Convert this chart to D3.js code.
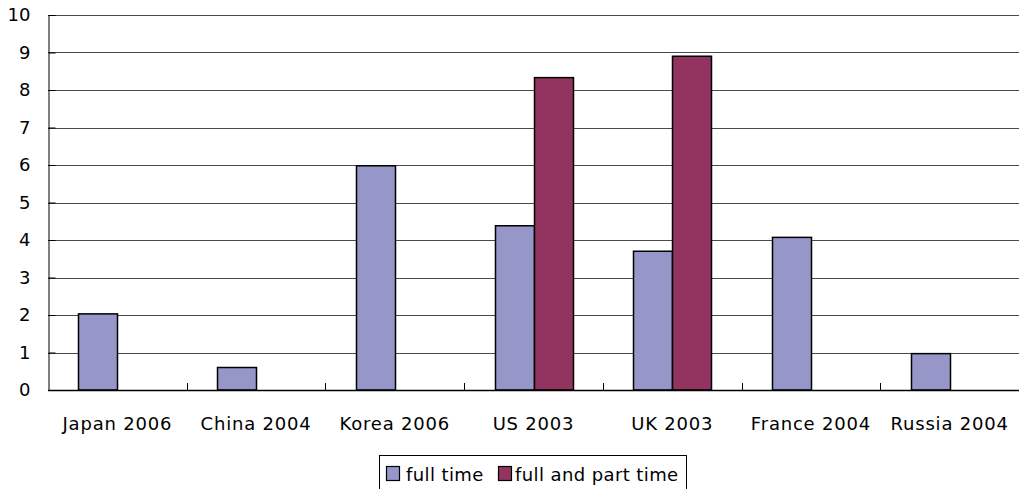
<!DOCTYPE html>
<html>
<head>
<meta charset="utf-8">
<script src="https://cdn.jsdelivr.net/npm/d3@7"></script>
<style>
  html, body { margin: 0; padding: 0; background: #fff; }
  svg { display: block; font-family: "DejaVu Sans", sans-serif; }
</style>
</head>
<body>
<svg id="chart" width="1019" height="489"></svg>
<script>
// Chart data
const categories = ["Japan 2006", "China 2004", "Korea 2006", "US 2003", "UK 2003", "France 2004", "Russia 2004"];
const seriesNames = ["full time", "full and part time"];
const fullTime = [2.03, 0.6, 5.98, 4.38, 3.7, 4.07, 0.97];
const fullAndPartTime = [null, null, null, 8.33, 8.9, null, null];
const yTicks = [0, 1, 2, 3, 4, 5, 6, 7, 8, 9, 10];
const colors = ["#9696c8", "#933360"];

const svg = d3.select("#chart");
const margin = { left: 48, right: 0, top: 15, bottom: 99 };
const W = 1019, H = 489;
const plotW = W - margin.left - margin.right;
const plotH = H - margin.top - margin.bottom;
const FONT = "\"DejaVu Sans\", sans-serif";

const x = d3.scaleBand().domain(categories).range([margin.left, margin.left + plotW]).paddingInner(0).paddingOuter(0);
const inner = d3.scaleBand().domain(seriesNames).range([0, x.bandwidth()]).paddingInner(0).paddingOuter(0.78);
const y = d3.scaleLinear().domain([0, 10]).range([margin.top + plotH, margin.top]);

// Gridlines
svg.append("g")
  .selectAll("line")
  .data(yTicks.filter(d => d > 0))
  .join("line")
  .attr("x1", margin.left).attr("x2", W)
  .attr("y1", d => Math.round(y(d)) + 0.5).attr("y2", d => Math.round(y(d)) + 0.5)
  .attr("stroke", "#4a4a4a").attr("stroke-width", 1);

// Y axis
const yAxis = d3.axisLeft(y).tickValues(yTicks).tickSize(-7).tickPadding(18).tickFormat(d3.format("d"));
const gy = svg.append("g").attr("transform", `translate(${margin.left + 0.5},0)`).call(yAxis);
gy.select(".domain").attr("stroke", "#000");
gy.selectAll(".tick line").attr("stroke", "#000");
gy.selectAll(".tick text").attr("font-size", 18).attr("fill", "#000").attr("font-family", FONT);

// Bars
const rows = categories.map((c, i) => ({ c, vals: [fullTime[i], fullAndPartTime[i]] }));
const bars = svg.append("g");
rows.forEach(r => {
  r.vals.forEach((v, j) => {
    if (v == null) return;
    bars.append("rect")
      .attr("x", Math.round(x(r.c) + inner(seriesNames[j])) + 0.5)
      .attr("y", y(v))
      .attr("width", Math.round(inner.bandwidth()))
      .attr("height", y(0) - y(v))
      .attr("fill", colors[j])
      .attr("stroke", "#000")
      .attr("stroke-width", 1.5);
  });
});

// X axis
const xAxis = d3.axisBottom(x).tickSize(0).tickPadding(26);
const gx = svg.append("g").attr("transform", `translate(0,${Math.round(y(0)) + 0.5})`).call(xAxis);
gx.select(".domain").remove();
gx.selectAll(".tick text").attr("font-size", 18).attr("fill", "#000").attr("font-family", FONT)
  .attr("letter-spacing", 0.8).attr("dy", null).attr("y", 39);
svg.append("line")
  .attr("x1", margin.left).attr("x2", W)
  .attr("y1", Math.round(y(0)) + 0.5).attr("y2", Math.round(y(0)) + 0.5)
  .attr("stroke", "#000").attr("stroke-width", 1.5);
// Category boundary ticks
svg.append("g").selectAll("line")
  .data(categories.slice(1))
  .join("line")
  .attr("x1", d => Math.round(x(d)) + 0.5).attr("x2", d => Math.round(x(d)) + 0.5)
  .attr("y1", y(0)).attr("y2", y(0) - 7)
  .attr("stroke", "#000");

// Legend
const lg = svg.append("g");
lg.append("rect").attr("x", 379.5).attr("y", 455.5).attr("width", 307).attr("height", 40)
  .attr("fill", "#fff").attr("stroke", "#000");
const legendItems = [
  { name: seriesNames[0], sx: 386, tx: 406 },
  { name: seriesNames[1], sx: 498, tx: 515 }
];
legendItems.forEach((d, i) => {
  lg.append("rect").attr("x", d.sx + 0.5).attr("y", 466.5).attr("width", 13).attr("height", 14)
    .attr("fill", colors[i]).attr("stroke", "#000").attr("stroke-width", 1.2);
  lg.append("text").attr("x", d.tx).attr("y", 481).attr("font-size", 18).attr("fill", "#000")
    .attr("letter-spacing", 0.4).attr("font-family", FONT).text(d.name);
});
</script>
</body>
</html>
